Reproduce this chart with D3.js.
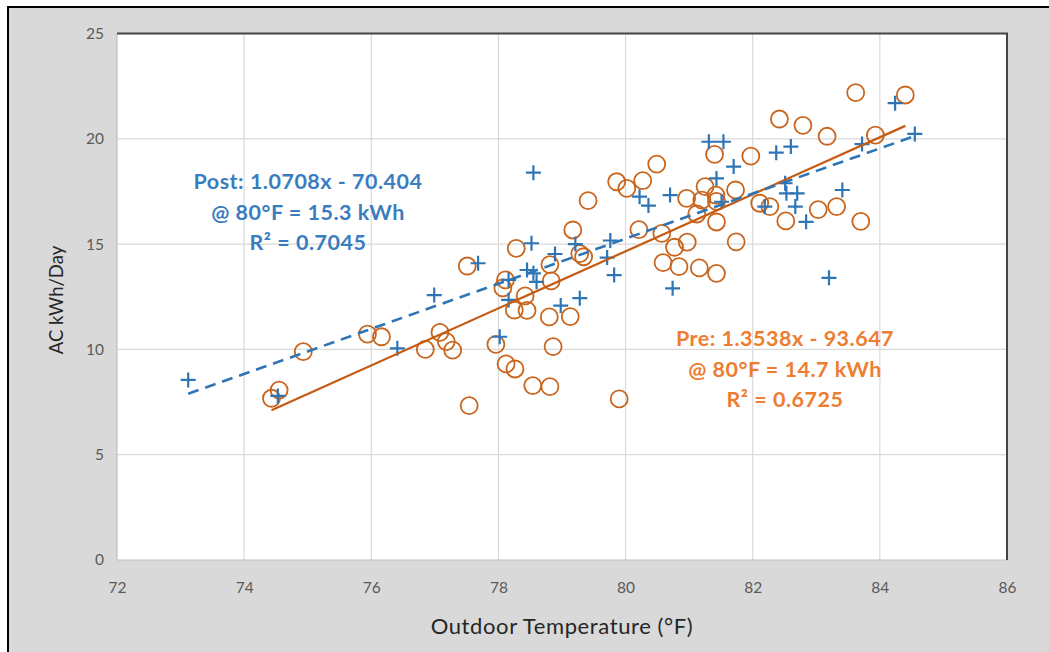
<!DOCTYPE html>
<html><head><meta charset="utf-8">
<script src="https://cdn.jsdelivr.net/npm/d3@7"></script>
<style>
html,body{margin:0;padding:0;background:#fff;}
svg{display:block;}
</style></head>
<body>
<svg id="chart" width="1049" height="652"></svg>
<script>
// ---- data ----
const xTicks = [72, 74, 76, 78, 80, 82, 84, 86];
const yTicks = [0, 5, 10, 15, 20, 25];

const preTemp = [74.43,74.55,74.93,75.94,76.16,76.85,77.08,77.18,77.28,77.51,77.54,77.96,78.11,78.07,78.12,78.26,78.28,78.25,78.42,78.45,78.54,78.81,78.80,78.81,78.83,78.86,79.13,79.17,79.28,79.34,79.41,79.86,79.90,80.02,80.21,80.27,80.49,80.57,80.59,80.77,80.84,80.96,80.97,81.16,81.20,81.25,81.12,81.40,81.42,81.43,81.43,81.43,81.73,81.74,81.97,82.11,82.27,82.42,82.52,82.79,83.03,83.17,83.32,83.62,83.70,83.93,84.40];
const preKwh  = [7.68,8.07,9.89,10.73,10.60,10.00,10.81,10.37,9.97,13.96,7.33,10.24,13.30,12.92,9.31,9.07,14.80,11.87,12.54,11.85,8.28,8.23,11.54,14.03,13.25,10.13,11.56,15.67,14.55,14.40,17.06,17.96,7.65,17.65,15.69,18.01,18.80,15.51,14.12,14.85,13.93,17.17,15.09,13.87,17.09,17.73,16.43,19.26,17.33,17.03,16.05,13.61,17.57,15.11,19.18,16.94,16.78,20.94,16.10,20.64,16.64,20.12,16.78,22.19,16.08,20.17,22.08];

const postTemp = [73.12,74.53,76.41,76.99,77.68,78.02,78.16,78.16,78.55,78.52,78.45,78.55,78.60,78.89,78.98,79.21,79.28,79.71,79.76,79.82,80.22,80.36,80.70,80.74,81.31,81.54,81.43,81.70,81.51,82.19,82.37,82.60,82.51,82.53,82.70,82.67,82.84,83.20,83.41,83.72,84.24,84.55];
const postKwh  = [8.55,7.79,10.05,12.58,14.09,10.60,13.30,12.35,18.39,15.04,13.77,13.61,13.21,14.53,12.08,15.00,12.43,14.36,15.17,13.53,17.25,16.83,17.33,12.90,19.86,19.86,18.12,18.68,17.01,16.78,19.34,19.63,17.89,17.41,17.41,16.78,16.06,13.40,17.57,19.75,21.69,20.23];

// trendlines: slope, intercept, x-extent
const preFit  = {slope: 1.3538, intercept: -93.647, from: 74.43, to: 84.40};
const postFit = {slope: 1.0708, intercept: -70.404, from: 73.12, to: 84.55};

const postLabel = ["Post: 1.0708x - 70.404", "@ 80°F = 15.3 kWh", "R² = 0.7045"];
const preLabel  = ["Pre: 1.3538x - 93.647", "@ 80°F = 14.7 kWh", "R² = 0.6725"];

// ---- layout ----
const W = 1049, H = 652;
const plot = {left: 117, top: 33.5, right: 1007, bottom: 560};
const svg = d3.select("#chart");
const FONT = "Lato, 'Open Sans', sans-serif";

// frame
svg.append("rect").attr("x", 8).attr("y", 7).attr("width", W).attr("height", H)
  .attr("fill", "#d9d9d9");
svg.append("line").attr("x1", 8).attr("x2", 8).attr("y1", 6).attr("y2", H).attr("stroke", "#000").attr("stroke-width", 2);
svg.append("line").attr("x1", 7).attr("x2", W).attr("y1", 7).attr("y2", 7).attr("stroke", "#000").attr("stroke-width", 2);

const x = d3.scaleLinear().domain([72, 86]).range([plot.left, plot.right]);
const y = d3.scaleLinear().domain([0, 25]).range([plot.bottom, plot.top]);

svg.append("rect").attr("x", plot.left).attr("y", plot.top)
  .attr("width", plot.right - plot.left).attr("height", plot.bottom - plot.top).attr("fill", "#fff");

// gridlines
const grid = svg.append("g");
grid.selectAll(".vg").data(xTicks.slice(1, -1)).join("line")
  .attr("x1", d => x(d)).attr("x2", d => x(d)).attr("y1", plot.top).attr("y2", plot.bottom)
  .attr("stroke", "#d9d9d9").attr("stroke-width", 1.2);
grid.selectAll(".hg").data(yTicks.slice(1, -1)).join("line")
  .attr("x1", plot.left).attr("x2", plot.right).attr("y1", d => y(d)).attr("y2", d => y(d))
  .attr("stroke", "#d9d9d9").attr("stroke-width", 1.2);

// axis borders
svg.append("line").attr("x1", plot.left).attr("x2", plot.left).attr("y1", plot.top).attr("y2", plot.bottom).attr("stroke", "#bfbfbf").attr("stroke-width", 1.2);
svg.append("line").attr("x1", plot.left).attr("x2", plot.right).attr("y1", plot.bottom).attr("y2", plot.bottom).attr("stroke", "#bfbfbf").attr("stroke-width", 1.2);
svg.append("line").attr("x1", plot.left).attr("x2", plot.right + 1).attr("y1", plot.top).attr("y2", plot.top).attr("stroke", "#444").attr("stroke-width", 2);
svg.append("line").attr("x1", plot.right).attr("x2", plot.right).attr("y1", plot.top).attr("y2", plot.bottom).attr("stroke", "#444").attr("stroke-width", 2);

// axes (labels only)
const xAxis = svg.append("g").attr("transform", `translate(0,${plot.bottom})`)
  .call(d3.axisBottom(x).tickValues(xTicks).tickSize(0).tickPadding(22));
const yAxis = svg.append("g").attr("transform", `translate(${plot.left},0)`)
  .call(d3.axisLeft(y).tickValues(yTicks).tickSize(0).tickPadding(13));
[xAxis, yAxis].forEach(a => {
  a.select(".domain").remove();
  a.selectAll("text").attr("font-family", FONT).attr("font-size", 15.5).attr("fill", "#595959");
});

// titles
svg.append("text").attr("x", 562).attr("y", 634).attr("text-anchor", "middle")
  .attr("font-family", FONT).attr("font-size", 22).attr("letter-spacing", 0.6).attr("fill", "#262626")
  .text("Outdoor Temperature (°F)");
svg.append("text").attr("transform", "translate(63,300) rotate(-90)").attr("text-anchor", "middle")
  .attr("font-family", FONT).attr("font-size", 18.5).attr("fill", "#262626")
  .text("AC kWh/Day");

const BLUE = "#2e75b6", ORANGE = "#c55a11", ORANGE_TXT = "#ed7d31";

// markers
const preData = preTemp.map((t, i) => ({t, k: preKwh[i]}));
const postData = postTemp.map((t, i) => ({t, k: postKwh[i]}));

svg.append("g").selectAll("circle").data(preData).join("circle")
  .attr("cx", d => x(d.t)).attr("cy", d => y(d.k)).attr("r", 8.5)
  .attr("fill", "none").attr("stroke", "#c9651c").attr("stroke-width", 1.8);

const plusG = svg.append("g").attr("stroke", BLUE).attr("stroke-width", 2.2);
const P = 7.5;
plusG.selectAll("path").data(postData).join("path")
  .attr("d", d => `M${x(d.t) - P},${y(d.k)}H${x(d.t) + P}M${x(d.t)},${y(d.k) - P}V${y(d.k) + P}`);

// trendlines
const line = d3.line().x(d => x(d[0])).y(d => y(d[1]));
function fitPts(f) { return [f.from, f.to].map(t => [t, f.slope * t + f.intercept]); }
svg.append("path").attr("d", line(fitPts(preFit))).attr("fill", "none")
  .attr("stroke", ORANGE).attr("stroke-width", 2.2);
svg.append("path").attr("d", line(fitPts(postFit))).attr("fill", "none")
  .attr("stroke", BLUE).attr("stroke-width", 2.6).attr("stroke-dasharray", "11,7");

// labels
function label(lines, cx, y0, color) {
  const t = svg.append("text").attr("text-anchor", "middle").attr("font-family", FONT)
    .attr("font-weight", "bold").attr("font-size", 21.5).attr("letter-spacing", 0.5).attr("fill", color);
  lines.forEach((s, i) => t.append("tspan").attr("x", cx).attr("y", y0 + i * 30.5).text(s));
}
label(postLabel, 308, 189, "#3a7dbf");
label(preLabel, 785, 346, ORANGE_TXT);
</script>
</body></html>
